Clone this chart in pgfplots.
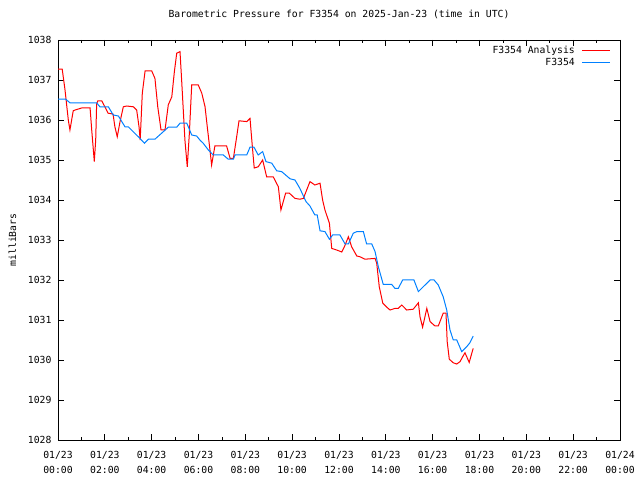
\documentclass[border=0pt]{standalone}
\usepackage{pgfplots}
\pgfplotsset{compat=1.18}
\usepackage{fontspec}
\setmainfont{DejaVu Sans Mono}
\definecolor{gpred}{RGB}{255,0,0}
\definecolor{gpblue}{RGB}{0,128,255}
\newcommand{\gpfont}{\fontsize{9.8}{15}\selectfont}
\begin{document}
\begin{tikzpicture}
\begin{axis}[
  at={(58bp,40bp)}, anchor=south west,
  scale only axis, width=562bp, height=400bp,
  xmin=0, xmax=24, ymin=1028, ymax=1038,
  xtick={0,2,...,24}, minor xtick={1,3,...,23},
  xticklabels={01/23\\00:00,01/23\\02:00,01/23\\04:00,01/23\\06:00,01/23\\08:00,01/23\\10:00,01/23\\12:00,01/23\\14:00,01/23\\16:00,01/23\\18:00,01/23\\20:00,01/23\\22:00,01/24\\00:00},
  xticklabel style={align=center, font=\gpfont, yshift=-8bp},
  ytick={1028,1029,...,1038},
  yticklabels={1028,1029,1030,1031,1032,1033,1034,1035,1036,1037,1038},
  yticklabel style={font=\gpfont, xshift=-3bp},
  tick align=inside, major tick length=6bp, minor tick length=3bp,
  every tick/.style={black, line width=0.8bp},
  axis line style={line width=0.8bp},
  title={Barometric Pressure for F3354 on 2025-Jan-23 (time in UTC)},
  title style={font=\gpfont, at={(axis description cs:0.5,1)}, anchor=base, yshift=16.5bp},
  ylabel={milliBars},
  ylabel style={font=\gpfont, at={(axis description cs:0,0.5)}, anchor=center, yshift=45.5bp},
  legend style={at={(axis description cs:1,1)}, anchor=north east, draw=none, fill=none,
    font=\gpfont, row sep=-1bp, xshift=-6bp, yshift=-2bp,
    /tikz/every odd column/.append style={column sep=5bp}},
  legend plot pos=right, legend cell align=right,
  legend image code/.code={\draw[#1] (0bp,0bp) -- (28bp,0bp);},
]
\addplot[gpred, line width=1bp] coordinates {
(0.01,1037.27)(0.18,1037.27)(0.30,1036.75)(0.44,1036.0)(0.51,1035.75)(0.65,1036.23)(0.73,1036.25)(1.01,1036.3)(1.37,1036.3)(1.44,1035.75)(1.55,1034.96)(1.61,1035.5)(1.65,1036.4)(1.70,1036.48)(1.87,1036.48)(2.14,1036.17)(2.35,1036.15)(2.43,1035.83)(2.53,1035.58)(2.65,1035.96)(2.79,1036.33)(2.93,1036.35)(3.22,1036.33)(3.36,1036.25)(3.46,1035.83)(3.51,1035.5)(3.60,1036.67)(3.72,1037.23)(4.00,1037.23)(4.14,1037.04)(4.26,1036.33)(4.40,1035.75)(4.57,1035.75)(4.71,1036.38)(4.86,1036.58)(4.97,1037.21)(5.07,1037.67)(5.21,1037.71)(5.28,1037.0)(5.42,1035.5)(5.52,1034.83)(5.61,1035.67)(5.71,1036.875)(5.99,1036.875)(6.14,1036.67)(6.28,1036.33)(6.39,1035.75)(6.49,1035.25)(6.56,1034.875)(6.70,1035.35)(7.20,1035.35)(7.35,1035.04)(7.49,1035.04)(7.63,1035.58)(7.73,1035.98)(8.06,1035.96)(8.20,1036.04)(8.30,1035.33)(8.38,1034.8)(8.55,1034.83)(8.74,1035.0)(8.91,1034.58)(9.19,1034.58)(9.41,1034.33)(9.52,1033.75)(9.72,1034.17)(9.88,1034.17)(10.12,1034.04)(10.33,1034.02)(10.48,1034.04)(10.62,1034.25)(10.76,1034.46)(10.97,1034.375)(11.19,1034.42)(11.30,1034.0)(11.40,1033.75)(11.59,1033.42)(11.69,1032.79)(11.90,1032.75)(12.12,1032.7)(12.23,1032.83)(12.40,1033.08)(12.54,1032.83)(12.76,1032.6)(12.90,1032.58)(13.11,1032.52)(13.54,1032.54)(13.61,1032.42)(13.72,1031.83)(13.87,1031.42)(14.04,1031.32)(14.18,1031.25)(14.39,1031.29)(14.53,1031.29)(14.68,1031.375)(14.89,1031.25)(15.17,1031.27)(15.39,1031.43)(15.46,1031.08)(15.57,1030.82)(15.75,1031.29)(15.89,1030.96)(16.10,1030.85)(16.24,1030.85)(16.45,1031.17)(16.57,1031.17)(16.62,1030.46)(16.71,1030.02)(16.88,1029.93)(17.03,1029.9)(17.17,1029.96)(17.28,1030.08)(17.38,1030.18)(17.56,1029.94)(17.73,1030.29)
};
\addlegendentry{F3354 Analysis}
\addplot[gpblue, line width=1bp] coordinates {
(0.01,1036.52)(0.33,1036.52)(0.51,1036.43)(1.65,1036.43)(1.79,1036.33)(2.15,1036.33)(2.36,1036.125)(2.58,1036.1)(2.86,1035.83)(3.00,1035.83)(3.50,1035.54)(3.69,1035.42)(3.86,1035.52)(4.14,1035.52)(4.71,1035.82)(5.07,1035.82)(5.21,1035.92)(5.50,1035.92)(5.71,1035.625)(5.92,1035.6)(6.06,1035.5)(6.20,1035.42)(6.42,1035.25)(6.63,1035.125)(7.06,1035.125)(7.27,1035.02)(7.49,1035.02)(7.56,1035.125)(8.06,1035.125)(8.20,1035.32)(8.37,1035.32)(8.55,1035.125)(8.74,1035.21)(8.88,1034.96)(9.13,1034.92)(9.34,1034.73)(9.55,1034.71)(9.91,1034.53)(10.12,1034.5)(10.33,1034.29)(10.59,1033.96)(10.76,1033.85)(10.97,1033.625)(11.07,1033.625)(11.19,1033.23)(11.40,1033.21)(11.59,1033.02)(11.73,1033.125)(12.04,1033.125)(12.26,1032.9)(12.40,1032.9)(12.61,1033.17)(12.76,1033.21)(13.04,1033.21)(13.18,1032.9)(13.40,1032.9)(13.54,1032.71)(13.68,1032.33)(13.89,1031.89)(14.25,1031.89)(14.39,1031.79)(14.53,1031.79)(14.72,1032.0)(15.20,1032.0)(15.39,1031.71)(15.89,1032.0)(16.06,1032.0)(16.24,1031.875)(16.45,1031.58)(16.60,1031.25)(16.74,1030.75)(16.88,1030.5)(17.03,1030.5)(17.24,1030.21)(17.45,1030.33)(17.59,1030.43)(17.73,1030.6)
};
\addlegendentry{F3354}
\end{axis}
\pgfresetboundingbox
\path (0,0) rectangle (640bp,480bp);
\end{tikzpicture}
\end{document}
